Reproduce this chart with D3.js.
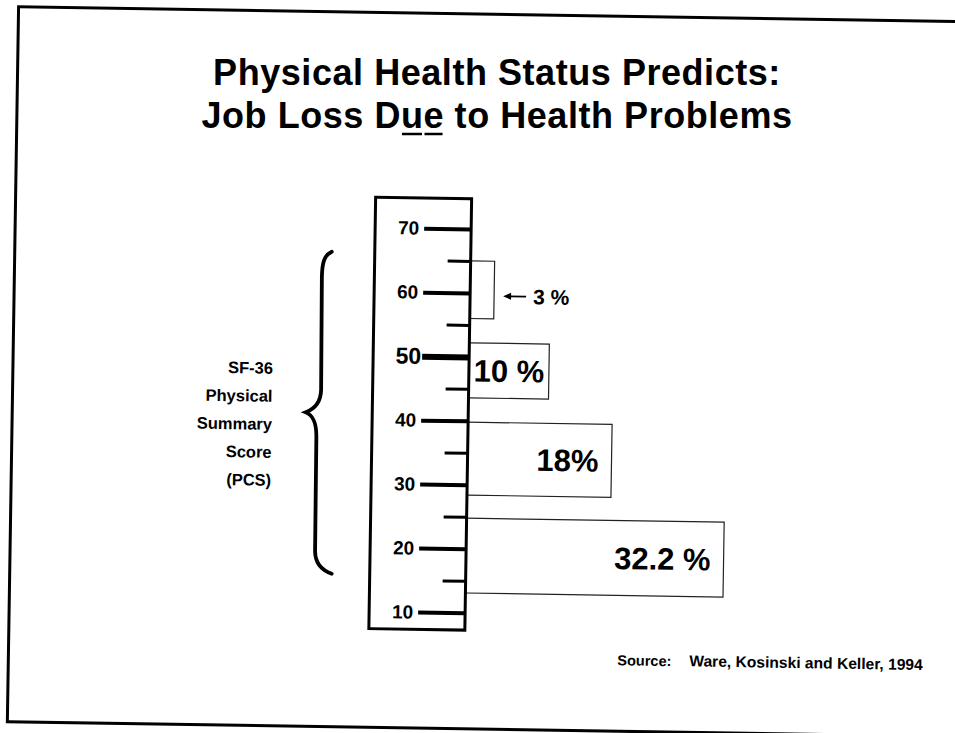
<!DOCTYPE html>
<html>
<head>
<meta charset="utf-8">
<script src="https://cdn.jsdelivr.net/npm/d3@7"></script>
<style>
  html, body { margin: 0; padding: 0; background: #fff; }
  svg { display: block; }
  text { font-family: "Liberation Sans", Arial, Helvetica, sans-serif; font-weight: bold; fill: #000; }
</style>
</head>
<body>
<svg id="chart" width="955" height="733"></svg>
<script>
// PCS score bands (top and bottom of each band) and the share losing a job
const bandTop    = [65, 52.2, 39.8, 24.8];
const bandBottom = [56, 43.6, 28.4, 13.1];
const jobLossPct = [3, 10, 18, 32.2];
const pctLabels  = ["3 %", "10 %", "18%", "32.2 %"];

// ruler ticks
const majorTicks = [10, 20, 30, 40, 50, 60, 70];
const minorTicks = [15, 25, 35, 45, 55, 65];
const rulerExtent = [7.3, 74.7];

const titleLines = ["Physical Health Status Predicts:", "Job Loss Due to Health Problems"];
const axisTitle  = ["SF-36", "Physical", "Summary", "Score", "(PCS)"];
const sourceLabel = "Source:";
const sourceText  = "Ware, Kosinski and Keller, 1994";

const W = 955, H = 733;
const svg = d3.select("#chart");
svg.append("rect").attr("width", W).attr("height", H).attr("fill", "#fff");

// the slide body sits slightly turned
const root = svg.append("g").attr("transform", "rotate(0.9, 477, 366)");

// slide frame
root.append("rect")
  .attr("x", 13).attr("y", 14).attr("width", 1000).attr("height", 715)
  .attr("fill", "none").attr("stroke", "#000").attr("stroke-width", 3);

// title
const title = svg.append("g");
titleLines.forEach((t, i) => {
  title.append("text")
    .attr("x", 497).attr("y", 85 + i * 43)
    .attr("text-anchor", "middle")
    .style("font-size", "36px")
    .style("letter-spacing", "0.55px")
    .text(t);
});
// underline under "ue" of "Due"
{
  const line2 = title.selectAll("text").nodes()[1];
  const idx = titleLines[1].indexOf("Due") + 1;
  ["u", "e"].forEach((ch, k) => {
    const ext = line2.getExtentOfChar(idx + k);
    title.append("line")
      .attr("x1", ext.x + 1).attr("x2", ext.x + ext.width - 1.5)
      .attr("y1", 85 + 43 + 6).attr("y2", 85 + 43 + 6)
      .attr("stroke", "#000").attr("stroke-width", 2.5);
  });
}

// scales
const y = d3.scaleLinear().domain([10, 70]).range([613, 229]);
const x = d3.scaleLinear().domain([0, 40]).range([469, 469 + 8 * 40]);

// bars
const bars = root.append("g");
jobLossPct.forEach((v, i) => {
  bars.append("rect")
    .attr("x", x(0)).attr("y", y(bandTop[i]))
    .attr("width", x(v) - x(0))
    .attr("height", y(bandBottom[i]) - y(bandTop[i]))
    .attr("fill", "#fff").attr("stroke", "#222").attr("stroke-width", 1.2);
});

// ruler box
root.append("rect")
  .attr("x", 373).attr("y", y(rulerExtent[1]))
  .attr("width", x(0) - 373).attr("height", y(rulerExtent[0]) - y(rulerExtent[1]))
  .attr("fill", "none").attr("stroke", "#000").attr("stroke-width", 3);

// major ticks with labels
const majorAxis = root.append("g")
  .attr("transform", `translate(${x(0)},0)`)
  .call(d3.axisLeft(y).tickValues(majorTicks).tickSize(47).tickPadding(5).tickFormat(d3.format("d")));
majorAxis.select(".domain").remove();
majorAxis.selectAll(".tick line").attr("stroke", "#000").attr("stroke-width", d => d === 50 ? 6 : 4);
majorAxis.selectAll(".tick text")
  .attr("fill", "#000")
  .style("font-family", "'Liberation Sans', Arial, sans-serif")
  .style("font-weight", "bold")
  .style("font-size", d => d === 50 ? "23px" : "19px")
  .attr("x", d => d === 50 ? -48 : -52);

// minor ticks
const minorAxis = root.append("g")
  .attr("transform", `translate(${x(0)},0)`)
  .call(d3.axisLeft(y).tickValues(minorTicks).tickSize(23).tickFormat(""));
minorAxis.select(".domain").remove();
minorAxis.selectAll(".tick line").attr("stroke", "#000").attr("stroke-width", 3);

// value labels
const labels = root.append("g");
jobLossPct.forEach((v, i) => {
  const mid = (y(bandTop[i]) + y(bandBottom[i])) / 2;
  const barW = x(v) - x(0);
  const t = labels.append("text").style("font-size", "31px").text(pctLabels[i]);
  const tw = t.node().getComputedTextLength();
  if (tw + 6 < barW) {
    const pad = Math.min(13, (barW - tw) / 2);
    t.attr("x", x(v) - pad).attr("y", mid + 11).attr("text-anchor", "end");
  } else {
    // too narrow: label to the right with a pointing arrow
    t.style("font-size", "21px");
    const ax0 = x(v) + 9, ax1 = ax0 + 23, ay = mid + 6;
    labels.append("line")
      .attr("x1", ax0 + 5).attr("x2", ax1).attr("y1", ay).attr("y2", ay)
      .attr("stroke", "#000").attr("stroke-width", 1.8);
    labels.append("path")
      .attr("d", `M${ax0},${ay} L${ax0 + 8},${ay - 3.5} L${ax0 + 8},${ay + 3.5} Z`)
      .attr("fill", "#000");
    t.attr("x", ax1 + 7).attr("y", ay + 7.5).attr("text-anchor", "start");
  }
});

// axis title and brace
const at = root.append("g");
axisTitle.forEach((t, i) => {
  at.append("text")
    .attr("x", 273).attr("y", 377 + i * 28)
    .attr("text-anchor", "end")
    .style("font-size", "16.5px")
    .text(t);
});
at.append("path")
  .attr("d", "M330,254 C322,258 320.5,266 320.5,280 L321.5,392 C321.5,406 314,412 306.5,415 C314,418 317.5,425 317.5,440 L318,553 C318,566 326,573 335,576")
  .attr("fill", "none").attr("stroke", "#000").attr("stroke-width", 3.8).attr("stroke-linecap", "round");

// source note
root.append("text").attr("x", 622).attr("y", 663).style("font-size", "14.5px").text(sourceLabel);
root.append("text").attr("x", 694).attr("y", 663).style("font-size", "15.6px").text(sourceText);
</script>
</body>
</html>
